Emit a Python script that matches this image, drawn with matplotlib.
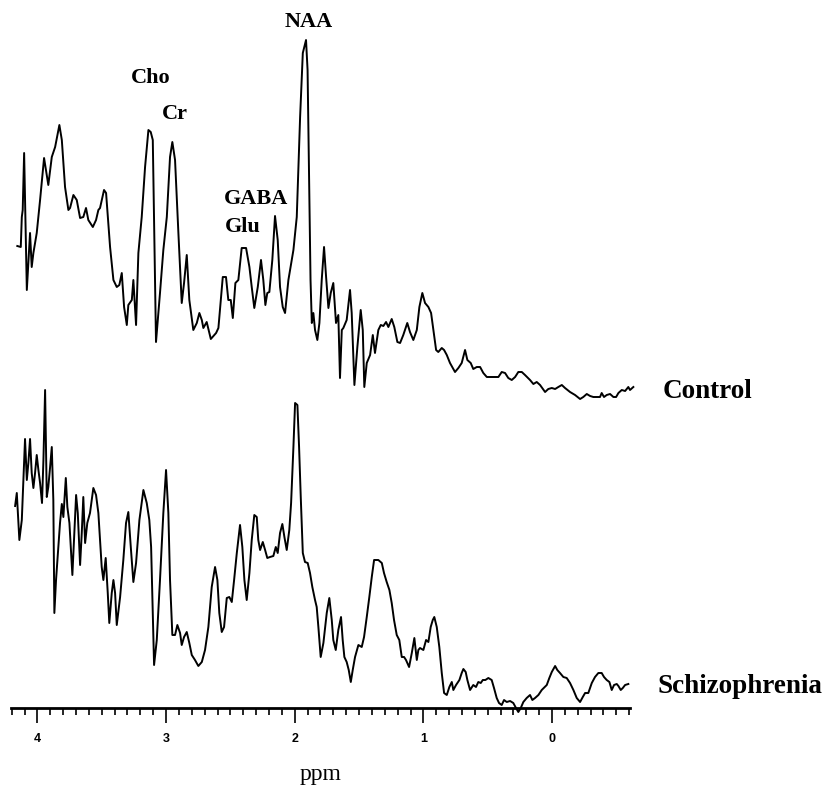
import numpy as np
import matplotlib
matplotlib.use("Agg")
import matplotlib.pyplot as plt
from matplotlib.ticker import MultipleLocator, FixedLocator

# 대조군 스펙트럼 (ppm, 신호 세기)
ctrl_ppm = [4.156, 4.129, 4.121, 4.114, 4.103, 4.082, 4.057, 4.044, 4.031, 4.005,
            3.979, 3.948, 3.915, 3.888, 3.862, 3.829, 3.810, 3.785, 3.759, 3.746,
            3.720, 3.694, 3.668, 3.643, 3.622, 3.604, 3.569, 3.544, 3.526, 3.513,
            3.482, 3.466, 3.435, 3.409, 3.383, 3.363, 3.344, 3.326, 3.305, 3.293,
            3.266, 3.254, 3.233, 3.215, 3.189, 3.163, 3.137, 3.119, 3.103, 3.078,
            3.047, 3.021, 2.994, 2.969, 2.951, 2.930, 2.904, 2.878, 2.860, 2.839,
            2.819, 2.788, 2.761, 2.741, 2.722, 2.710, 2.684, 2.652, 2.611, 2.593,
            2.559, 2.534, 2.516, 2.497, 2.481, 2.461, 2.438, 2.412, 2.378, 2.352,
            2.334, 2.314, 2.287, 2.262, 2.244, 2.228, 2.213, 2.197, 2.186, 2.174,
            2.153, 2.132, 2.114, 2.093, 2.075, 2.049, 2.010, 1.984, 1.958, 1.937,
            1.912, 1.900, 1.888, 1.877, 1.867, 1.855, 1.842, 1.824, 1.808, 1.790,
            1.772, 1.756, 1.738, 1.720, 1.700, 1.679, 1.661, 1.648, 1.634, 1.622,
            1.596, 1.570, 1.557, 1.536, 1.513, 1.487, 1.471, 1.459, 1.440, 1.414,
            1.393, 1.376, 1.350, 1.331, 1.311, 1.290, 1.272, 1.246, 1.226, 1.202,
            1.181, 1.156, 1.125, 1.104, 1.078, 1.051, 1.031, 1.008, 0.987, 0.961,
            0.940, 0.922, 0.901, 0.884, 0.857, 0.839, 0.818, 0.793, 0.754, 0.728,
            0.702, 0.676, 0.658, 0.632, 0.612, 0.585, 0.559, 0.534, 0.507, 0.482,
            0.443, 0.417, 0.391, 0.365, 0.340, 0.313, 0.287, 0.262, 0.235, 0.210,
            0.171, 0.145, 0.119, 0.093, 0.054, 0.029, 0.002, -0.024, -0.049, -0.076,
            -0.101, -0.140, -0.179, -0.218, -0.243, -0.270, -0.296, -0.321, -0.348, -0.373,
            -0.386, -0.404, -0.425, -0.451, -0.477, -0.498, -0.516, -0.542, -0.568, -0.593,
            -0.606, -0.632]
ctrl_int = [154, 153, 183, 190, 247, 110, 167, 133, 147, 167,
            200, 242, 215, 243, 253, 275, 260, 213, 190, 192,
            205, 200, 182, 183, 192, 180, 173, 180, 190, 192,
            210, 207, 153, 120, 113, 115, 127, 93, 75, 95,
            100, 120, 75, 147, 183, 233, 270, 268, 260, 58,
            107, 150, 183, 243, 258, 240, 167, 97, 117, 145,
            100, 70, 77, 87, 80, 72, 78, 61, 67, 72,
            123, 123, 100, 100, 82, 117, 120, 152, 152, 133,
            113, 92, 113, 140, 120, 95, 107, 108, 123, 140,
            184, 160, 113, 93, 87, 120, 150, 183, 283, 347,
            360, 330, 220, 120, 77, 87, 70, 60, 77, 120,
            153, 123, 92, 107, 117, 77, 85, 22, 70, 72,
            80, 110, 87, 15, 53, 90, 70, 13, 37, 45,
            65, 47, 70, 75, 74, 78, 73, 81, 73, 58,
            57, 65, 77, 68, 60, 70, 93, 107, 97, 93,
            87, 70, 50, 48, 52, 50, 45, 37, 28, 32,
            37, 50, 40, 37, 31, 33, 33, 27, 23, 23,
            23, 23, 28, 27, 22, 20, 23, 28, 28, 25,
            20, 16, 18, 15, 8, 11, 12, 11, 13, 15,
            12, 8, 5, 1, 3, 6, 4, 3, 3, 3,
            7, 3, 5, 6, 3, 3, 7, 10, 9, 13,
            10, 13]

# 조현병 환자 스펙트럼 (ppm, 신호 세기)
schiz_ppm = [4.173, 4.160, 4.140, 4.121, 4.109, 4.096, 4.082, 4.070, 4.057, 4.044,
             4.031, 4.018, 4.005, 3.992, 3.979, 3.964, 3.953, 3.940, 3.927, 3.915,
             3.901, 3.888, 3.876, 3.868, 3.855, 3.837, 3.824, 3.810, 3.798, 3.779,
             3.767, 3.751, 3.728, 3.715, 3.699, 3.686, 3.668, 3.655, 3.643, 3.629,
             3.612, 3.591, 3.565, 3.544, 3.526, 3.513, 3.500, 3.487, 3.469, 3.453,
             3.441, 3.422, 3.409, 3.396, 3.383, 3.357, 3.332, 3.311, 3.293, 3.274,
             3.254, 3.233, 3.207, 3.176, 3.150, 3.130, 3.116, 3.103, 3.093, 3.072,
             3.047, 3.021, 3.000, 2.982, 2.969, 2.951, 2.930, 2.912, 2.891, 2.878,
             2.860, 2.839, 2.819, 2.800, 2.775, 2.749, 2.722, 2.697, 2.671, 2.645,
             2.619, 2.601, 2.586, 2.567, 2.549, 2.528, 2.508, 2.489, 2.471, 2.450,
             2.425, 2.407, 2.391, 2.373, 2.352, 2.334, 2.314, 2.295, 2.283, 2.269,
             2.248, 2.230, 2.213, 2.192, 2.166, 2.147, 2.132, 2.114, 2.096, 2.080,
             2.062, 2.042, 2.028, 2.010, 1.997, 1.979, 1.966, 1.953, 1.937, 1.920,
             1.899, 1.881, 1.863, 1.842, 1.829, 1.816, 1.798, 1.777, 1.751, 1.731,
             1.712, 1.700, 1.681, 1.661, 1.640, 1.627, 1.614, 1.596, 1.580, 1.564,
             1.549, 1.531, 1.505, 1.479, 1.461, 1.440, 1.420, 1.401, 1.383, 1.350,
             1.323, 1.306, 1.285, 1.264, 1.246, 1.228, 1.207, 1.187, 1.168, 1.150,
             1.135, 1.111, 1.090, 1.070, 1.051, 1.039, 1.026, 1.000, 0.979, 0.961,
             0.943, 0.927, 0.915, 0.896, 0.876, 0.857, 0.839, 0.818, 0.798, 0.779,
             0.767, 0.746, 0.720, 0.702, 0.689, 0.671, 0.658, 0.637, 0.612, 0.591,
             0.573, 0.554, 0.538, 0.518, 0.495, 0.469, 0.451, 0.430, 0.412, 0.391,
             0.373, 0.352, 0.326, 0.301, 0.280, 0.262, 0.243, 0.223, 0.197, 0.171,
             0.153, 0.132, 0.106, 0.080, 0.041, 0.021, 0.002, -0.024, -0.041, -0.062,
             -0.088, -0.114, -0.140, -0.166, -0.192, -0.218, -0.239, -0.257, -0.282, -0.309,
             -0.334, -0.360, -0.386, -0.404, -0.425, -0.446, -0.464, -0.482, -0.503, -0.516,
             -0.534, -0.550, -0.568, -0.593]
schiz_int = [209, 222, 175, 195, 235, 276, 235, 252, 276, 242,
             227, 242, 260, 245, 232, 212, 255, 325, 218, 228,
             248, 268, 215, 102, 135, 168, 192, 211, 198, 237,
             208, 192, 140, 175, 220, 202, 150, 182, 218, 172,
             192, 202, 227, 220, 202, 175, 148, 135, 157, 122,
             92, 122, 135, 122, 90, 118, 155, 192, 203, 168,
             133, 152, 195, 225, 212, 195, 168, 102, 50, 75,
             135, 202, 245, 202, 135, 80, 80, 90, 82, 70,
             78, 83, 72, 60, 55, 49, 53, 65, 88, 128,
             148, 135, 102, 83, 88, 117, 118, 113, 135, 162,
             190, 168, 135, 115, 142, 175, 200, 198, 175, 165,
             173, 165, 157, 158, 159, 168, 162, 182, 191, 178,
             165, 185, 212, 268, 312, 310, 268, 218, 162, 153,
             152, 142, 128, 115, 108, 88, 58, 72, 102, 117,
             95, 75, 65, 85, 98, 75, 58, 53, 45, 33,
             45, 58, 70, 68, 78, 98, 118, 138, 155, 155,
             152, 142, 133, 125, 112, 95, 80, 75, 58, 58,
             55, 48, 62, 77, 55, 65, 67, 65, 75, 73,
             88, 95, 98, 88, 68, 42, 22, 20, 28, 33,
             25, 30, 35, 42, 46, 43, 35, 25, 30, 28,
             33, 32, 35, 35, 37, 35, 27, 17, 12, 10,
             15, 13, 14, 12, 7, 3, 7, 13, 17, 20,
             15, 17, 20, 25, 30, 37, 43, 49, 45, 42,
             38, 37, 32, 25, 17, 13, 18, 22, 22, 32,
             38, 42, 42, 38, 35, 33, 25, 30, 31, 29,
             25, 27, 30, 31]

# 두 스펙트럼을 위아래로 띄우는 간격
ctrl_offset = 315

fig = plt.figure(figsize=(8.27, 7.92), dpi=100)
ax = fig.add_axes([11 / 827, 84 / 792, 619 / 827, 673 / 792])

ax.plot(ctrl_ppm, np.array(ctrl_int) + ctrl_offset, color="black", lw=1.4, clip_on=False)
ax.plot(schiz_ppm, schiz_int, color="black", lw=1.4, clip_on=False)

ax.set_xlim(4.205, -0.606)
ax.set_ylim(7, 680)

# 아래쪽 축만 남김
for side in ["top", "left", "right"]:
    ax.spines[side].set_visible(False)
ax.spines["bottom"].set_linewidth(2.0)
ax.set_yticks([])

ax.xaxis.set_major_locator(FixedLocator([4, 3, 2, 1, 0]))
ax.xaxis.set_minor_locator(MultipleLocator(0.1))
ax.set_xticklabels(["4", "3", "2", "1", "0"], fontfamily="Liberation Sans",
                   fontweight="bold", fontsize=9)
ax.tick_params(axis="x", which="major", direction="out", length=11, width=1.2, pad=7)
ax.tick_params(axis="x", which="minor", direction="out", length=5, width=1.2)

ax.set_xlabel("ppm", fontfamily="Liberation Serif", fontsize=17, labelpad=14)

# 피크 이름
lab = dict(fontfamily="Liberation Serif", fontweight="bold", fontsize=16, va="baseline")
ax.text(1.889, 688, "NAA", ha="center", **lab)
ax.text(3.117, 632, "Cho", ha="center", **lab)
ax.text(2.930, 596, "Cr", ha="center", **lab)
ax.text(2.549, 511, "GABA", ha="left", **lab)
ax.text(2.541, 483, "Glu", ha="left", **lab)

grp = dict(fontfamily="Liberation Serif", fontweight="bold", fontsize=19.5,
           va="baseline", ha="left", clip_on=False)
ax.text(-0.863, 317, "Control", **grp)
ax.text(-0.816, 22, "Schizophrenia", **grp)

plt.savefig("out.png", dpi=100)
